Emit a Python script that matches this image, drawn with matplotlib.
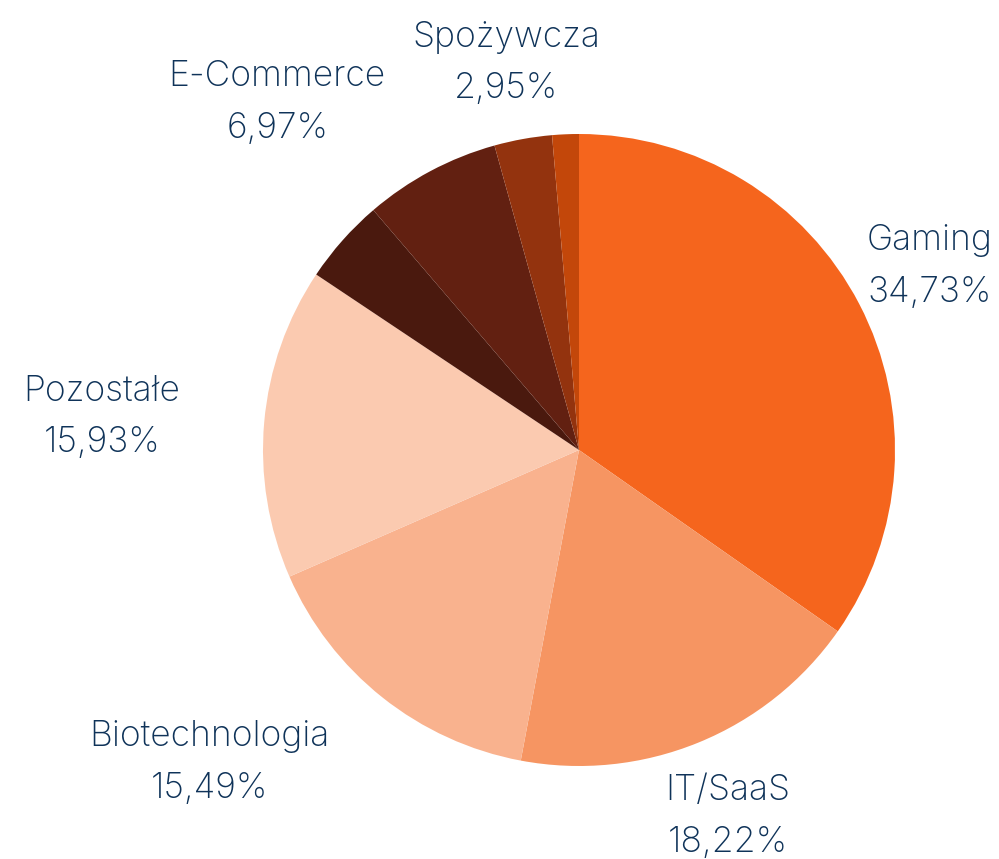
import matplotlib
matplotlib.use('Agg')
import matplotlib.pyplot as plt

# udziały sektorów (%), zgodnie z ruchem wskazówek zegara od góry
sectors = ['Gaming', 'IT/SaaS', 'Biotechnologia', 'Pozostałe', '', 'E-Commerce', 'Spożywcza', '']
shares = [34.73, 18.22, 15.49, 15.93, 4.35, 6.97, 2.95, 1.36]
labels = ['Gaming\n34,73%', 'IT/SaaS\n18,22%', 'Biotechnologia\n15,49%', 'Pozostałe\n15,93%',
          '', 'E-Commerce\n6,97%', 'Spożywcza\n2,95%', '']
colors = ['#F5651D', '#F69562', '#F9B28E', '#FBCAB0', '#4A190E', '#622011', '#93330E', '#C3470A']
# pozycje podpisów (w promieniach koła, względem środka)
label_pos = [(1.11, 0.58), (0.47, -1.16), (-1.17, -0.99), (-1.51, 0.105),
             None, (-0.955, 1.10), (-0.23, 1.225), None]

text_color = '#0F3359'

fig = plt.figure(figsize=(9.99, 8.59), dpi=100)
ax = fig.add_axes([0, 0, 1, 1])
ax.pie(shares, colors=colors, startangle=90, counterclock=False, radius=1.0,
       wedgeprops=dict(linewidth=0))
for lab, pos in zip(labels, label_pos):
    if pos is None:
        continue
    ax.text(pos[0], pos[1], lab, ha='center', va='center', fontsize=25.5,
            family='Inter', fontweight='light', color=text_color, linespacing=1.72)

ax.set_xlim(-579 / 316, (999 - 579) / 316)
ax.set_ylim(-409 / 316, 450 / 316)
ax.set_aspect('equal')
ax.axis('off')
fig.savefig('out.png', dpi=100)
